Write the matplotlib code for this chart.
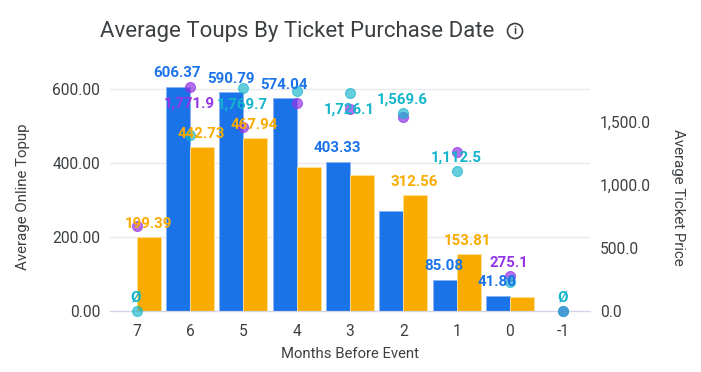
#!/usr/bin/env python3
"""Average topups and ticket price by months before the event."""

import numpy as np
import matplotlib
matplotlib.use("Agg")
import matplotlib.pyplot as plt
from matplotlib.patches import Circle

months = ["7", "6", "5", "4", "3", "2", "1", "0", "-1"]

# Left axis, bars
blue_topup = [np.nan, 606.37, 590.79, 574.04, 403.33, 270, 85.08, 41.80, np.nan]
orange_topup = [199.39, 442.73, 467.94, 389, 368, 312.56, 153.81, 38, np.nan]
blue_labels = [None, "606.37", "590.79", "574.04", "403.33", None, "85.08", "41.80", None]
orange_labels = ["199.39", "442.73", "467.94", None, None, "312.56", "153.81", None, None]

# Right axis, points
purple_price = [672, 1771.9, 1455, 1650, 1598, 1540, 1260, 275.1, 0]
teal_price = [0, 1395, 1769.7, 1746, 1726.1, 1569.6, 1112.5, 232, 0]
purple_labels = [None, "1,771.9", None, None, None, None, None, "275.1", None]
teal_labels = ["Ø", None, "1,769.7", None, "1,726.1", "1,569.6", "1,112.5", None, "Ø"]

left_ticks = [0, 200, 400, 600]
right_ticks = [0, 500, 1000, 1500]

BLUE = "#1a73e8"
ORANGE = "#f9ab00"
PURPLE = "#9334e6"
TEAL = "#12b5cb"
GREY = "#3c4043"
W, H = 701, 372

plt.rcParams["font.family"] = ["Roboto", "DejaVu Sans"]

fig = plt.figure(figsize=(W / 100, H / 100), dpi=100)
ax = fig.add_axes([110 / W, 1 - 311 / H, 480 / W, 251 / H])
ax2 = ax.twinx()

x = np.arange(len(months))
bar_w = 0.45

ax.bar(x - bar_w / 2, blue_topup, bar_w, color=BLUE, edgecolor="#8ab4f8", linewidth=0.6, zorder=2)
ax.bar(x + bar_w / 2, orange_topup, bar_w, color=ORANGE, edgecolor="#fde293", linewidth=0.6, zorder=2)

ax.set_xlim(-0.5, len(months) - 0.5)
ax.set_ylim(0, 678)
ax2.set_ylim(0, 1989)

ax.set_yticks(left_ticks)
ax.set_yticklabels([f"{v:.2f}" for v in left_ticks])
ax2.set_yticks(right_ticks)
ax2.set_yticklabels([f"{v:,.1f}" for v in right_ticks])
ax.set_xticks(x)
ax.set_xticklabels(months)

ax.grid(axis="y", color="#e8eaed", linewidth=1, zorder=0)
ax.set_axisbelow(True)
for a in (ax, ax2):
    for side in ("top", "left", "right"):
        a.spines[side].set_visible(False)
    a.spines["bottom"].set_color("#d2d6e8")
    a.tick_params(length=0, labelsize=11.2, labelcolor=GREY)
ax.tick_params(axis="y", pad=7)
ax.tick_params(axis="x", pad=9)
ax2.tick_params(axis="y", pad=7)

ax2.scatter(x, purple_price, s=52, color=PURPLE, alpha=0.7, edgecolor=PURPLE, linewidth=0.8, clip_on=False, zorder=3)
ax2.scatter(x, teal_price, s=52, color=TEAL, alpha=0.65, edgecolor=TEAL, linewidth=0.8, clip_on=False, zorder=4)


def add_labels(xs, ys, labels, color, coords, offsets=None):
    for i, (px, py, label) in enumerate(zip(xs, ys, labels)):
        if label is None:
            continue
        dy = offsets.get(i, 9.5) if offsets else 9.5
        ax2.annotate(label, (px, py), xycoords=coords, xytext=(-0.5, dy), textcoords="offset points",
                     ha="center", va="center", color=color, fontsize=10.8, fontweight="bold",
                     annotation_clip=False, zorder=6)


add_labels(x - bar_w / 2, blue_topup, blue_labels, BLUE, ax.transData)
add_labels(x + bar_w / 2, orange_topup, orange_labels, ORANGE, ax.transData)
add_labels(x, purple_price, purple_labels, PURPLE, ax2.transData, {1: -11.5})
add_labels(x, teal_price, teal_labels, TEAL, ax2.transData, {2: -12, 4: -12})

fig.text(100 / W, 1 - 31 / H, "Average Toups By Ticket Purchase Date", fontsize=16, color=GREY,
         ha="left", va="center")
fig.text(350 / W, 1 - 354 / H, "Months Before Event", fontsize=10.7, color=GREY, ha="center", va="center")
fig.text(23 / W, 1 - 197 / H, "Average Online Topup", fontsize=10.8, color=GREY, rotation=90,
         ha="center", va="center")
fig.text(678 / W, 1 - 197 / H, "Average Ticket Price", fontsize=10.8, color=GREY, rotation=-90,
         ha="center", va="center")

# info icon next to the title
fig.add_artist(Circle((515, H - 31), 7.5, transform=None, fill=False, edgecolor=GREY, linewidth=1.2))
fig.text(515 / W, 1 - 31 / H, "i", fontsize=8, fontweight="bold", color=GREY, ha="center", va="center")

fig.savefig("out.png", dpi=100)
